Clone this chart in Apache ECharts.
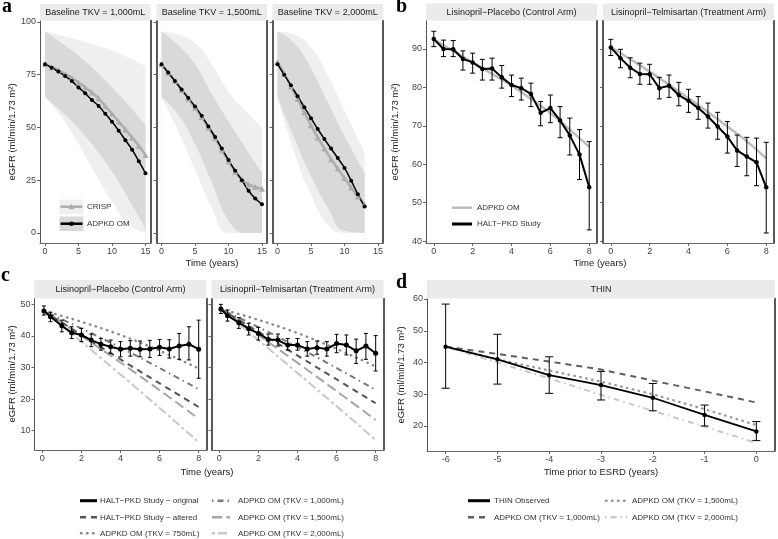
<!DOCTYPE html>
<html>
<head>
<meta charset="utf-8">
<script src="https://cdn.jsdelivr.net/npm/echarts@6/dist/echarts.min.js"></script>
<style>
    html, body { margin: 0; padding: 0; background: #fff; }
    #chart { width: 778px; height: 539px; }
</style>
</head>
<body>
<div id="chart"></div>
<script>
// ---------- data ----------
// panel a : years and projections per baseline TKV
var aYears15 = [0, 1, 2, 3, 4, 5, 6, 7, 8, 9, 10, 11, 12, 13, 14, 15];
var aYears13 = [0, 1, 2, 3, 4, 5, 6, 7, 8, 9, 10, 11, 12, 13];
var omTkv1000 = [80, 78.3, 76.5, 74.4, 72, 69, 66.2, 63, 60.2, 56.5, 52.7, 48.5, 44, 39.5, 34, 28.3];
var crispTkv1000 = [80, 78.6, 77.1, 75.4, 73.5, 71.3, 69, 66.6, 63.8, 60.2, 56.5, 52.8, 49, 45.3, 41.3, 37];
var omTkv1500 = [80, 76, 72, 68, 64, 60, 55.5, 50.5, 45.5, 40, 34.6, 29.5, 25, 20, 16.3, 13.6];
var crispTkv1500 = [80, 76, 72, 67.8, 63.6, 59.4, 55, 50, 45, 39.5, 34, 29, 25.3, 23, 21.8, 21];
var omTkv2000 = [80, 75, 70, 64.8, 59.6, 54.4, 49.3, 44.5, 40, 35.5, 30.8, 24.8, 18.3, 12.5];
var crispTkv2000 = [81, 75.5, 69.5, 63.5, 57.2, 51, 45.3, 40, 35, 30.5, 26, 21.5, 17.3, 13.5];

// panel a : prediction bands (outer light, inner dark)
var bandYears15 = [0, 2.5, 5, 7.5, 10, 12.5, 15];
var bandYears13 = [0, 2.5, 5, 7.5, 10, 13];
var band1000 = {
    lightHi: [95.5, 93.5, 91.5, 89, 86.5, 83, 79],
    darkHi: [95.5, 90, 84, 77, 69, 60.5, 51],
    darkLo: [64.5, 57.5, 49.5, 40, 29, 16, 2],
    lightLo: [64.5, 55, 42, 28, 15, 4, 0]
};
var band1500 = {
    lightHi: [95.5, 94, 90, 80, 67, 58, 50],
    darkHi: [95.5, 89, 80, 66, 53, 40.5, 28.5],
    darkLo: [64.5, 56, 42, 24, 6, 0, 0],
    lightLo: [64.5, 48, 30, 12, 0, 0, 0]
};
var band2000 = {
    lightHi: [95.5, 94, 88, 75, 58, 38],
    darkHi: [95.5, 90, 78, 62, 46, 28.5],
    darkLo: [64.5, 45, 27, 12, 1, 0],
    lightLo: [64.5, 38, 18, 4, 0, 0]
};

// panel b : HALT-PKD (eGFR > 60)
var bYears = [0, 0.5, 1, 1.5, 2, 2.5, 3, 3.5, 4, 4.5, 5, 5.5, 6, 6.5, 7, 7.5, 8];
var bCtrlMean = [92.6, 90.0, 89.9, 87.4, 86.5, 84.8, 84.9, 82.6, 80.6, 79.8, 78.3, 73.4, 74.6, 71.4, 67.5, 62.5, 54.0];
var bCtrlLo = [90.6, 88, 88, 84.5, 83.7, 81.9, 81.9, 79.8, 77.6, 76.7, 75, 70, 70.8, 66.9, 62.4, 56, 42.9];
var bCtrlHi = [94.6, 92.3, 92.2, 89.5, 88.9, 87.3, 87.6, 85.7, 83.2, 82.4, 81.1, 76.3, 78, 75, 72, 69, 65.9];
var bTrtMean = [90.4, 87.6, 85.1, 83.5, 83.4, 79.8, 80.4, 78, 76.5, 74.6, 72.4, 69.8, 67.2, 63.6, 62.0, 60.5, 54.0];
var bTrtLo = [88.3, 85.1, 82.5, 80.8, 80.8, 77, 77.4, 75.2, 73.5, 71.7, 69.4, 66.5, 62.9, 59.4, 57, 54.4, 42.1];
var bTrtHi = [92.5, 89.9, 87.7, 86.3, 86, 82.6, 83.2, 81.3, 79.5, 77.6, 75.9, 73.5, 71.1, 67.6, 67, 66.8, 65.7];
var bOmYears = [0, 1, 2, 3, 4, 5, 6, 7, 8];
var bOmCtrl = [92.5, 89.5, 86.5, 83.5, 80.5, 77, 73.3, 69, 64.5];
var bOmTrt = [90.5, 87.3, 84.1, 80.7, 77.2, 73.6, 69.8, 66, 61.5];

// panel c : HALT-PKD (eGFR 25-60)
var cYears = [0.08, 0.42, 1, 1.5, 2, 2.5, 3, 3.5, 4, 4.5, 5, 5.5, 6, 6.5, 7, 7.5, 8];
var cCtrlMean = [47.9, 46.1, 43.2, 41.0, 40.3, 38.7, 37.4, 36.6, 35.8, 36.1, 35.8, 35.9, 36.4, 35.9, 36.8, 37.4, 35.8];
var cCtrlLo = [46.6, 44.5, 41.3, 39.2, 38.2, 36.6, 35.5, 34.5, 33.4, 33.6, 33.4, 33.2, 33.8, 33.0, 32.6, 32.4, 26.6];
var cCtrlHi = [49.5, 47.5, 45, 42.9, 42.4, 40.6, 39.2, 38.7, 38.2, 38.5, 38.4, 38.6, 38.9, 38.8, 40.8, 42.9, 45.0];
var cTrtMean = [48.5, 46.4, 44.2, 42.3, 40.8, 38.9, 38.7, 37.1, 37.1, 35.9, 36.3, 35.9, 37.6, 37.1, 35.3, 36.8, 34.5];
var cTrtLo = [47.1, 44.7, 42.4, 40.3, 38.7, 37.1, 36.8, 35.5, 35.5, 33.6, 34.2, 33.6, 34.7, 34, 31.3, 32.6, 28.9];
var cTrtHi = [50, 48.2, 45.8, 44, 42.7, 40.6, 40.6, 39.2, 39.2, 38.2, 38.4, 38.2, 40.5, 40.3, 39, 40.8, 40.1];
var cLineYears = [0.08, 4, 8];
var cCtrlAltered = [47.9, 32.6, 17.5];
var cCtrlOm750 = [47.9, 40.3, 29.7];
var cCtrlOm1000 = [47.9, 36.3, 23.1];
var cCtrlOm1500 = [47.9, 31.6, 13.8];
var cCtrlOm2000 = [47.9, 27.8, 6.4];
var cTrtAltered = [48.5, 33.8, 18.7];
var cTrtOm750 = [48.5, 40.9, 30.3];
var cTrtOm1000 = [48.5, 36.5, 22.9];
var cTrtOm1500 = [48.5, 31.5, 13.4];
var cTrtOm2000 = [48.5, 28.3, 7.1];

// panel d : THIN
var dYears = [-6, -5, -4, -3, -2, -1, 0];
var dMean = [45, 41, 36, 32.9, 28.9, 23.5, 18.3];
var dLo = [31.9, 33.2, 30.3, 28.2, 24.8, 20, 15.4];
var dHi = [58.4, 48.9, 41.8, 37.2, 33.4, 26.6, 21.4];
var dOm1000 = [45, 42.7, 40.3, 37.8, 34.3, 30.9, 27.4];
var dOm1500 = [45, 41, 37.5, 34, 30, 25.3, 20.3];
var dOm2000 = [45, 40, 35, 29.8, 24.8, 19.8, 14.7];

// ---------- layout ----------
var FONT = 'Liberation Sans, Arial, sans-serif';
var LIGHT = '#efefef', DARK = '#d9d9d9';

var facets = [
    { left: 40, top: 20.5, width: 110.5, height: 222.5, x: [-0.75, 15.75], xt: [0, 5, 10, 15], y: [-4.75, 100.7], yt: [0, 25, 50, 75, 100], first: true },
    { left: 156.5, top: 20.5, width: 110.5, height: 222.5, x: [-0.75, 15.75], xt: [0, 5, 10, 15], y: [-4.75, 100.7], yt: [0, 25, 50, 75, 100] },
    { left: 272.5, top: 20.5, width: 110.5, height: 222.5, x: [-0.75, 15.75], xt: [0, 5, 10, 15], y: [-4.75, 100.7], yt: [0, 25, 50, 75, 100] },
    { left: 426, top: 20.5, width: 171, height: 222.5, x: [-0.4, 8.4], xt: [0, 2, 4, 6, 8], y: [39.5, 97.4], yt: [40, 50, 60, 70, 80, 90], first: true },
    { left: 603, top: 20.5, width: 171, height: 222.5, x: [-0.4, 8.4], xt: [0, 2, 4, 6, 8], y: [39.5, 97.4], yt: [40, 50, 60, 70, 80, 90] },
    { left: 34.5, top: 298.5, width: 172, height: 151.5, x: [-0.4, 8.4], xt: [0, 2, 4, 6, 8], y: [3.9, 51.85], yt: [10, 20, 30, 40, 50], first: true },
    { left: 211.5, top: 298.5, width: 172, height: 151.5, x: [-0.4, 8.4], xt: [0, 2, 4, 6, 8], y: [3.9, 51.85], yt: [10, 20, 30, 40, 50] },
    { left: 427, top: 298.5, width: 348, height: 152.5, x: [-6.36, 0.36], xt: [-6, -5, -4, -3, -2, -1, 0], y: [12.13, 60.16], yt: [20, 30, 40, 50, 60], first: true }
];

var grids = [], xAxes = [], yAxes = [];
facets.forEach(function (f, i) {
    grids.push({ left: f.left, top: f.top, width: f.width, height: f.height });
    xAxes.push({
        type: 'value', gridIndex: i, min: f.x[0], max: f.x[1], z: 5,
        axisLine: { show: true, onZero: false, lineStyle: { color: '#666', width: 1 } },
        axisTick: { show: true, length: 3, customValues: f.xt, lineStyle: { color: '#666' } },
        axisLabel: { customValues: f.xt, color: '#444', fontSize: 9, fontFamily: FONT, margin: 4 },
        splitLine: { show: false }
    });
    // left axis
    yAxes.push({
        type: 'value', gridIndex: i, min: f.y[0], max: f.y[1], z: 5,
        axisLine: { show: true, onZero: false, lineStyle: { color: f.first ? '#555' : '#222', width: f.first ? 1 : 1.5 } },
        axisTick: { show: true, length: 3, customValues: f.yt, lineStyle: { color: '#666' } },
        axisLabel: { show: !!f.first, customValues: f.yt, color: '#444', fontSize: 9, fontFamily: FONT, margin: 4 },
        splitLine: { show: false }
    });
    // right border
    yAxes.push({
        type: 'value', gridIndex: i, min: f.y[0], max: f.y[1], position: 'right', z: 5,
        axisLine: { show: true, onZero: false, lineStyle: { color: '#222', width: 1.5 } },
        axisTick: { show: false }, axisLabel: { show: false }, splitLine: { show: false }
    });
});

function pairs (xs, ys) {
    return xs.map(function (x, i) { return [x, ys[i]] });
}

function line (gi, xs, ys, opt) {
    opt = opt || {};
    return {
        type: 'line', xAxisIndex: gi, yAxisIndex: 2 * gi, z: opt.z || 4,
        data: pairs(xs, ys), smooth: !!opt.smooth, silent: true,
        symbol: opt.symbol || 'none', symbolSize: opt.symbolSize || 4, showSymbol: !!opt.symbol,
        itemStyle: { color: opt.color },
        lineStyle: { color: opt.color, width: opt.width || 1.5, type: opt.dash || 'solid', cap: opt.cap || 'butt' }
    };
}

// band edge filled down to the axis start; layering them gives the nested ribbons
function bandEdge (gi, xs, ys, fill) {
    return {
        type: 'line', xAxisIndex: gi, yAxisIndex: 2 * gi, z: 1, silent: true,
        data: pairs(xs, ys), smooth: true, symbol: 'none',
        lineStyle: { width: 0 },
        areaStyle: { color: fill, opacity: 1, origin: 'start' }
    };
}

function bands (gi, xs, b) {
    return [
        bandEdge(gi, xs, b.lightHi, LIGHT),
        bandEdge(gi, xs, b.darkHi, DARK),
        bandEdge(gi, xs, b.darkLo, LIGHT),
        bandEdge(gi, xs, b.lightLo, '#fff')
    ];
}

function errBars (gi, xs, lo, hi, cap) {
    return {
        type: 'custom', xAxisIndex: gi, yAxisIndex: 2 * gi, z: 4, silent: true,
        data: xs.map(function (x, i) { return [x, lo[i], hi[i]] }),
        encode: { x: 0, y: [1, 2] },
        renderItem: function (params, api) {
            var x = api.value(0);
            var a = api.coord([x, api.value(1)]);
            var b = api.coord([x, api.value(2)]);
            function seg (x1, y1, x2, y2) {
                return { type: 'line', shape: { x1: x1, y1: y1, x2: x2, y2: y2 }, style: { stroke: '#000', lineWidth: 1 } };
            }
            return {
                type: 'group',
                children: [
                    seg(a[0], a[1], b[0], b[1]),
                    seg(a[0] - cap, a[1], a[0] + cap, a[1]),
                    seg(b[0] - cap, b[1], b[0] + cap, b[1])
                ]
            };
        }
    };
}

// line looks
var DASH = [6, 5], DOT = [0.5, 5.5], DOTDASH = [1.5, 4, 6, 4], LONGDASH = [10, 4.5], TWODASH = [3, 3, 9, 3];

var series = [];
// panel a
[[0, band1000, bandYears15, aYears15, crispTkv1000, omTkv1000],
 [1, band1500, bandYears15, aYears15, crispTkv1500, omTkv1500],
 [2, band2000, bandYears13, aYears13, crispTkv2000, omTkv2000]].forEach(function (p) {
    series = series.concat(bands(p[0], p[2], p[1]));
    series.push(line(p[0], p[3], p[4], { color: '#adadad', width: 2.5, smooth: true, symbol: 'triangle', symbolSize: 6 }));
    series.push(line(p[0], p[3], p[5], { color: '#000', width: 1.5, smooth: true, symbol: 'circle', symbolSize: 4 }));
});

// panel b
series.push(line(3, bOmYears, bOmCtrl, { color: '#bdbdbd', width: 2.5, smooth: true, z: 3 }));
series.push(errBars(3, bYears, bCtrlLo, bCtrlHi, 2.5));
series.push(line(3, bYears, bCtrlMean, { color: '#000', width: 2, symbol: 'circle', symbolSize: 4.5 }));
series.push(line(4, bOmYears, bOmTrt, { color: '#bdbdbd', width: 2.5, smooth: true, z: 3 }));
series.push(errBars(4, bYears, bTrtLo, bTrtHi, 2.5));
series.push(line(4, bYears, bTrtMean, { color: '#000', width: 2, symbol: 'circle', symbolSize: 4.5 }));

// panel c
[[5, cCtrlAltered, cCtrlOm750, cCtrlOm1000, cCtrlOm1500, cCtrlOm2000, cCtrlMean, cCtrlLo, cCtrlHi],
 [6, cTrtAltered, cTrtOm750, cTrtOm1000, cTrtOm1500, cTrtOm2000, cTrtMean, cTrtLo, cTrtHi]].forEach(function (p) {
    var gi = p[0];
    series.push(line(gi, cLineYears, p[5], { color: '#c8c8c8', width: 2, dash: TWODASH, smooth: true, z: 3 }));
    series.push(line(gi, cLineYears, p[4], { color: '#a6a6a6', width: 2, dash: LONGDASH, smooth: true, z: 3 }));
    series.push(line(gi, cLineYears, p[3], { color: '#7a7a7a', width: 2, dash: DOTDASH, smooth: true, z: 3 }));
    series.push(line(gi, cLineYears, p[1], { color: '#555', width: 2, dash: DASH, smooth: true, z: 3 }));
    series.push(line(gi, cLineYears, p[2], { color: '#888', width: 2.4, dash: DOT, cap: 'round', smooth: true, z: 3 }));
    series.push(errBars(gi, cYears, p[7], p[8], 2));
    series.push(line(gi, cYears, p[6], { color: '#000', width: 2, symbol: 'circle', symbolSize: 5 }));
});

// panel d
series.push(line(7, dYears, dOm2000, { color: '#c8c8c8', width: 2, dash: DOTDASH, z: 3 }));
series.push(line(7, dYears, dOm1500, { color: '#999', width: 2.4, dash: DOT, cap: 'round', z: 3 }));
series.push(line(7, dYears, dOm1000, { color: '#5f5f5f', width: 2, dash: DASH, z: 3 }));
series.push(errBars(7, dYears, dLo, dHi, 4));
series.push(line(7, dYears, dMean, { color: '#000', width: 1.8, symbol: 'circle', symbolSize: 4.5 }));

// ---------- decorations: strips, titles, legends ----------
var graphic = [];

function strip (x, y, w, h, label) {
    graphic.push({ type: 'rect', shape: { x: x, y: y, width: w, height: h }, style: { fill: '#ebebeb' }, z: 10 });
    graphic.push({ type: 'text', x: x + w / 2, y: y + h / 2 + 0.5, z: 11,
        style: { text: label, fill: '#1a1a1a', font: '9px ' + FONT, align: 'center', verticalAlign: 'middle' } });
}
strip(40, 4, 110.5, 16.5, 'Baseline TKV = 1,000mL');
strip(156.5, 4, 110.5, 16.5, 'Baseline TKV = 1,500mL');
strip(272.5, 4, 110.5, 16.5, 'Baseline TKV = 2,000mL');
strip(426, 3.5, 171, 17, 'Lisinopril\u2212Placebo (Control Arm)');
strip(603, 3.5, 171, 17, 'Lisinopril\u2212Telmisartan (Treatment Arm)');
strip(34.5, 280, 172, 18.5, 'Lisinopril\u2212Placebo (Control Arm)');
strip(211.5, 280, 172, 18.5, 'Lisinopril\u2212Telmisartan (Treatment Arm)');
strip(427, 280, 348, 18.5, 'THIN');

function text (x, y, s, opt) {
    opt = opt || {};
    graphic.push({ type: 'text', x: x, y: y, rotation: opt.rot || 0, z: 11,
        style: { text: s, fill: opt.color || '#222', font: (opt.font || '9.5px ' + FONT),
            align: opt.align || 'left', verticalAlign: opt.va || 'middle' } });
}
// panel letters
var LETTER = 'bold 20px Liberation Serif, DejaVu Serif, serif';
text(2, 17, 'a', { font: LETTER, va: 'bottom', color: '#000' });
text(396, 17, 'b', { font: LETTER, va: 'bottom', color: '#000' });
text(1, 286, 'c', { font: LETTER, va: 'bottom', color: '#000' });
text(396, 293, 'd', { font: LETTER, va: 'bottom', color: '#000' });

// axis titles
var YT = 'eGFR (ml/min/1.73 m\u00B2)';
text(12, 132, YT, { rot: Math.PI / 2, align: 'center' });
text(395, 132, YT, { rot: Math.PI / 2, align: 'center' });
text(12, 374, YT, { rot: Math.PI / 2, align: 'center' });
text(401, 375, YT, { rot: Math.PI / 2, align: 'center' });
text(212, 263, 'Time (years)', { align: 'center' });
text(600, 263, 'Time (years)', { align: 'center' });
text(207, 472, 'Time (years)', { align: 'center' });
text(601, 472, 'Time prior to ESRD (years)', { align: 'center' });

// legend helpers
function key (x1, x2, y, color, width, dash, cap) {
    graphic.push({ type: 'line', z: 11, shape: { x1: x1, y1: y, x2: x2, y2: y },
        style: { stroke: color, lineWidth: width, lineDash: dash || null, lineCap: cap || 'butt' } });
}
var LEG = '8px ' + FONT;

// panel a legend (inside first facet)
graphic.push({ type: 'rect', z: 10, shape: { x: 59.5, y: 199.5, width: 24, height: 14.5 }, style: { fill: '#f0f0f0' } });
graphic.push({ type: 'rect', z: 10, shape: { x: 59.5, y: 216.5, width: 24, height: 14.5 }, style: { fill: DARK } });
key(60.5, 82.5, 206.7, '#adadad', 2.5);
graphic.push({ type: 'polygon', z: 12, shape: { points: [[71.5, 203.7], [68.3, 209.2], [74.7, 209.2]] }, style: { fill: '#adadad' } });
key(60.5, 82.5, 223.7, '#000', 2.5);
graphic.push({ type: 'circle', z: 12, shape: { cx: 71.5, cy: 223.7, r: 2.3 }, style: { fill: '#000' } });
text(87, 206.7, 'CRISP', { font: LEG, color: '#333' });
text(87, 223.7, 'ADPKD OM', { font: LEG, color: '#333' });

// panel b legend
key(452, 472, 207.7, '#bdbdbd', 2.5);
key(452, 472, 224, '#000', 3);
text(477, 207.7, 'ADPKD OM', { font: LEG, color: '#333' });
text(477, 224, 'HALT\u2212PKD Study', { font: LEG, color: '#333' });

// panel c legend
key(80, 97, 500.7, '#000', 3);
key(80, 97, 517.3, '#555', 2.5, DASH);
key(81, 97, 533.3, '#888', 2.6, DOT, 'round');
key(212, 230, 500.7, '#7a7a7a', 2.5, DOTDASH);
key(212, 230, 517.3, '#a6a6a6', 2.5, LONGDASH);
key(212, 230, 533.3, '#c8c8c8', 2.5, TWODASH);
text(100, 500.7, 'HALT\u2212PKD Study \u2212 original', { font: LEG, color: '#333' });
text(100, 517.3, 'HALT\u2212PKD Study \u2212 altered', { font: LEG, color: '#333' });
text(100, 533.3, 'ADPKD OM (TKV = 750mL)', { font: LEG, color: '#333' });
text(238, 500.7, 'ADPKD OM (TKV = 1,000mL)', { font: LEG, color: '#333' });
text(238, 517.3, 'ADPKD OM (TKV = 1,500mL)', { font: LEG, color: '#333' });
text(238, 533.3, 'ADPKD OM (TKV = 2,000mL)', { font: LEG, color: '#333' });

// panel d legend
key(468, 490, 500.7, '#000', 3);
key(468, 490, 517.3, '#5f5f5f', 2.5, DASH);
key(606, 627, 500.7, '#999', 2.6, DOT, 'round');
key(605, 627, 517.3, '#c8c8c8', 2.5, DOTDASH);
text(494, 500.7, 'THIN Observed', { font: LEG, color: '#333' });
text(494, 517.3, 'ADPKD OM (TKV = 1,000mL)', { font: LEG, color: '#333' });
text(632, 500.7, 'ADPKD OM (TKV = 1,500mL)', { font: LEG, color: '#333' });
text(632, 517.3, 'ADPKD OM (TKV = 2,000mL)', { font: LEG, color: '#333' });

var chart = echarts.init(document.getElementById('chart'), null, { renderer: 'canvas' });
chart.setOption({
    animation: false,
    backgroundColor: '#fff',
    textStyle: { fontFamily: FONT },
    grid: grids,
    xAxis: xAxes,
    yAxis: yAxes,
    series: series,
    graphic: graphic
});
</script>
</body>
</html>
